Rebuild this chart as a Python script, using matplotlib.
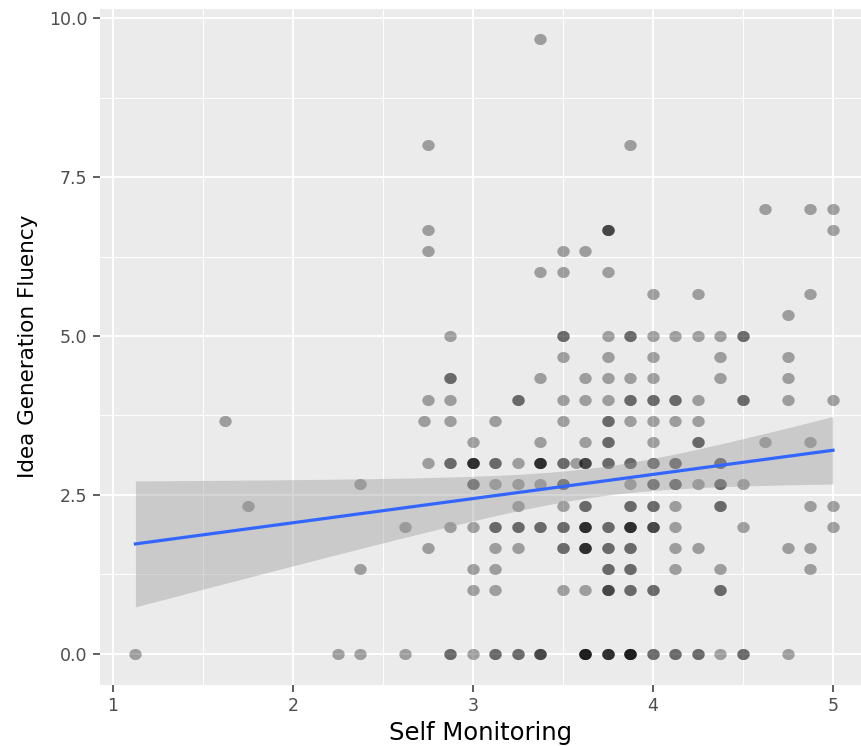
import matplotlib
matplotlib.use('Agg')
import matplotlib.pyplot as plt
import numpy as np
from matplotlib.path import Path

# one entry per plotted position; n_obs = how many respondents sit on it
self_monitoring = [
	3.375, 2.75, 3.875, 4.625, 4.875, 5.0, 2.75, 3.75, 5.0, 2.75, 3.5, 3.625, 3.375, 3.5, 3.75,
	4.0, 4.25, 4.875, 4.75,
	# 5.0
	2.875, 3.5, 3.75, 3.875, 4.0, 4.125, 4.25, 4.375, 4.5,
	# 4.667
	3.5, 3.75, 4.0, 4.375, 4.75,
	# 4.333
	2.875, 3.375, 3.625, 3.75, 3.875, 4.0, 4.375, 4.75,
	# 4.0
	2.75, 2.875, 3.25, 3.5, 3.625, 3.75, 3.875, 4.0, 4.125, 4.25, 4.5, 4.75, 5.0,
	# 3.667
	1.625, 2.73, 2.875, 3.125, 3.5, 3.75, 3.875, 4.0, 4.125, 4.25,
	# 3.333
	3.0, 3.375, 3.625, 3.75, 4.0, 4.25, 4.625, 4.875,
	# 3.0
	2.75, 2.875, 3.0, 3.125, 3.25, 3.375, 3.5, 3.571, 3.625, 3.75, 3.875, 4.0, 4.125, 4.375,
	# 2.667
	2.375, 3.0, 3.125, 3.25, 3.375, 3.5, 3.875, 4.0, 4.125, 4.25, 4.375, 4.5,
	# 2.333
	1.75, 3.25, 3.5, 3.625, 3.875, 4.0, 4.125, 4.375, 4.875, 5.0,
	# 2.0
	2.625, 2.875, 3.0, 3.125, 3.25, 3.375, 3.5, 3.625, 3.75, 3.875, 4.0, 4.125, 4.5, 5.0,
	# 1.667
	2.75, 3.125, 3.25, 3.5, 3.625, 3.75, 3.875, 4.125, 4.25, 4.75, 4.875,
	# 1.333
	2.375, 3.0, 3.125, 3.75, 3.875, 4.125, 4.375, 4.875,
	# 1.0
	3.0, 3.125, 3.5, 3.625, 3.75, 3.875, 4.0, 4.375,
	# 0.0
	1.125, 2.25, 2.375, 2.625, 2.875, 3.0, 3.125, 3.25, 3.375, 3.625, 3.75, 3.875, 4.0, 4.125,
	4.25, 4.375, 4.5, 4.75,
]

idea_fluency = (
	[9.667, 8.0, 8.0, 7.0, 7.0, 7.0, 6.667, 6.667, 6.667, 6.333, 6.333, 6.333, 6.0, 6.0, 6.0,
	 5.667, 5.667, 5.667, 5.333]
	+ [5.0] * 9 + [4.667] * 5 + [4.333] * 8 + [4.0] * 13 + [3.667] * 10 + [3.333] * 8
	+ [3.0] * 14 + [2.667] * 12 + [2.333] * 10 + [2.0] * 14 + [1.667] * 11 + [1.333] * 8
	+ [1.0] * 8 + [0.0] * 18
)

n_obs = [
	1, 1, 1, 1, 1, 1, 1, 3, 1, 1, 1, 1, 1, 1, 1, 1, 1, 1, 1,
	1, 2, 1, 2, 1, 1, 1, 1, 2,
	1, 1, 1, 1, 1,
	2, 1, 1, 1, 1, 1, 1, 1,
	1, 1, 2, 1, 1, 1, 2, 2, 2, 1, 2, 1, 1,
	1, 1, 1, 1, 1, 2, 1, 1, 1, 1,
	1, 1, 1, 2, 1, 2, 1, 1,
	1, 2, 4, 2, 1, 4, 2, 1, 3, 2, 2, 2, 2, 2,
	1, 2, 1, 1, 1, 2, 1, 2, 2, 1, 2, 1,
	1, 1, 1, 2, 2, 2, 1, 2, 1, 1,
	1, 1, 1, 2, 2, 2, 2, 4, 2, 4, 3, 1, 1, 1,
	1, 1, 1, 2, 4, 2, 2, 1, 1, 1, 1,
	1, 1, 1, 2, 2, 1, 1, 1,
	1, 1, 1, 1, 3, 2, 2, 2,
	1, 1, 1, 1, 2, 1, 2, 2, 3, 5, 4, 5, 2, 2, 2, 1, 2, 1,
]

x_ticks = [1, 2, 3, 4, 5]
y_ticks = [0.0, 2.5, 5.0, 7.5, 10.0]
y_tick_labels = ['0.0', '2.5', '5.0', '7.5', '10.0']


def main():
	x = np.repeat(np.array(self_monitoring), n_obs)
	y = np.repeat(np.array(idea_fluency), n_obs)

	# lm fit + 95% band, like geom_smooth(method = "lm")
	slope, intercept = np.polyfit(x, y, 1)
	n = len(x)
	resid = y - (intercept + slope * x)
	s = np.sqrt(np.sum(resid ** 2) / (n - 2))
	sxx = np.sum((x - x.mean()) ** 2)
	xs = np.linspace(x.min(), x.max(), 100)
	fit = intercept + slope * xs
	se = s * np.sqrt(1 / n + (xs - x.mean()) ** 2 / sxx)
	t_crit = 1.97

	fig = plt.figure(figsize=(8.61, 7.46), dpi=100)
	ax = fig.add_axes([0.1161, 0.0822, 0.8839, 0.9064])
	ax.set_facecolor('#EBEBEB')
	for sp in ax.spines.values():
		sp.set_visible(False)

	for v in [1.5, 2.5, 3.5, 4.5]:
		ax.axvline(v, color='white', lw=0.7, zorder=0)
	for v in [1.25, 3.75, 6.25, 8.75]:
		ax.axhline(v, color='white', lw=0.7, zorder=0)
	for v in x_ticks:
		ax.axvline(v, color='white', lw=1.4, zorder=0)
	for v in y_ticks:
		ax.axhline(v, color='white', lw=1.4, zorder=0)

	# image is a bit wider than tall, so are the dots
	t = np.linspace(0, 2 * np.pi, 40)
	oval = Path(np.column_stack([1.12 * np.cos(t), np.sin(t)]), closed=True)
	ax.scatter(x, y, s=80, marker=oval, color='black', alpha=0.33, linewidths=0, zorder=2)

	ax.fill_between(xs, fit - t_crit * se, fit + t_crit * se, color='#999999', alpha=0.4,
	                linewidth=0, zorder=3)
	ax.plot(xs, fit, color='#3366FF', lw=2.3, zorder=4)

	ax.set_xlim(0.928, 1 + (861 - 113) / 180)
	ax.set_ylim(-0.483, 10.15)
	ax.set_xticks(x_ticks)
	ax.set_yticks(y_ticks)
	ax.set_yticklabels(y_tick_labels)
	ax.tick_params(axis='both', colors='#333333', length=5, width=1.1, labelsize=12.5,
	               labelcolor='#4D4D4D', pad=4)

	ax.set_xlabel('Self Monitoring', fontsize=17.5, labelpad=4)
	ax.set_ylabel('Idea Generation Fluency', fontsize=15.5, labelpad=8)

	fig.savefig('out.png', dpi=100)


if __name__ == '__main__':
	main()
